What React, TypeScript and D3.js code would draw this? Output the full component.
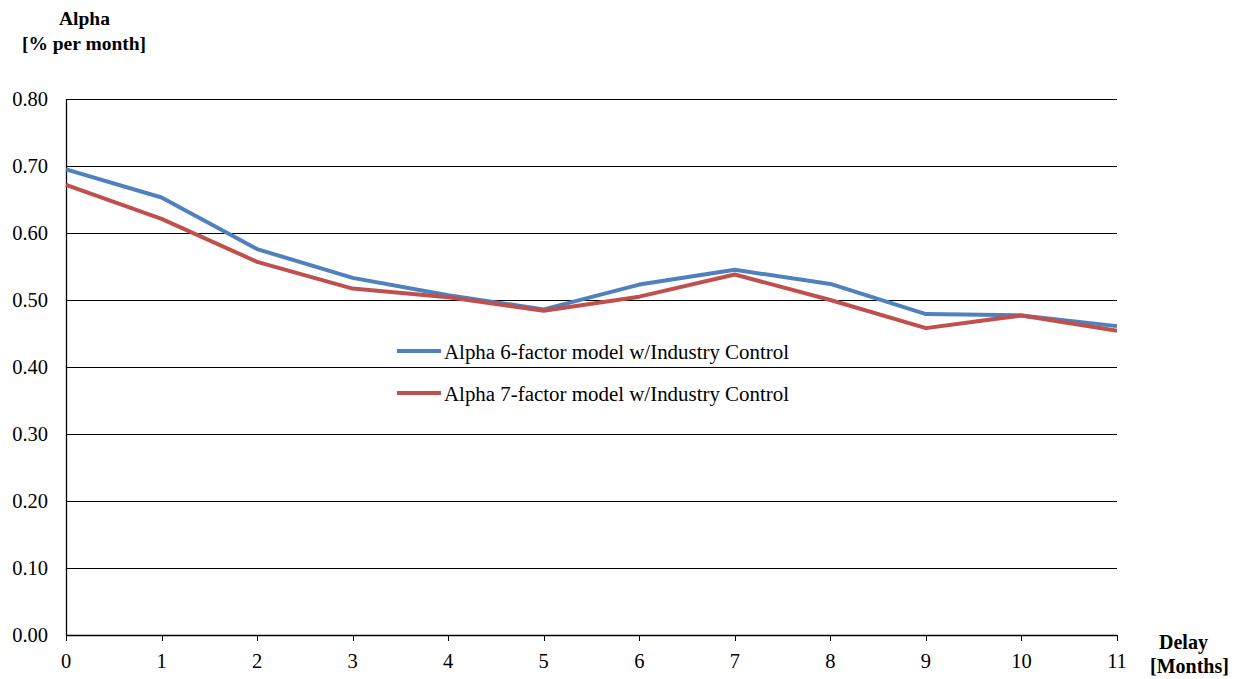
import React from "react";
import * as d3 from "d3";

const delays = [0, 1, 2, 3, 4, 5, 6, 7, 8, 9, 10, 11];
const alpha6 = [0.695, 0.653, 0.576, 0.533, 0.507, 0.486, 0.523, 0.545, 0.524, 0.479, 0.477, 0.461];
const alpha7 = [0.672, 0.621, 0.557, 0.517, 0.504, 0.484, 0.505, 0.538, 0.500, 0.458, 0.477, 0.454];
const yTicks = [0, 0.1, 0.2, 0.3, 0.4, 0.5, 0.6, 0.7, 0.8];
const seriesNames = ["Alpha 6-factor model w/Industry Control", "Alpha 7-factor model w/Industry Control"];
const colors = ["#4F81BD", "#C0504D"];

const W = 1236, H = 679;
const FONT = "'Liberation Serif', 'Times New Roman', serif";

export default function App() {
  const x = d3.scaleLinear().domain([0, 11]).range([66, 1117]);
  const y = d3.scaleLinear().domain([0, 0.8]).range([635, 99]);
  const line = d3.line<number>().x((_, i) => x(delays[i])).y((d) => y(d));
  const series = [alpha6, alpha7];
  return (
    <svg width={W} height={H} style={{ position: "absolute", left: 0, top: 0, background: "#fff" }} fontFamily={FONT}>
      {yTicks.map((t) => (
        <g key={t}>
          {t > 0 && <line x1={x(0)} x2={x(11)} y1={Math.round(y(t)) + 0.5} y2={Math.round(y(t)) + 0.5} stroke="#000" strokeWidth={1} />}
          <text x={48} y={y(t) + 7} textAnchor="end" fontSize={20.5}>{t.toFixed(2)}</text>
        </g>
      ))}
      <line x1={66.5} x2={66.5} y1={99} y2={636} stroke="#000" strokeWidth={1.3} />
      <line x1={66} x2={1117} y1={635.5} y2={635.5} stroke="#000" strokeWidth={1.3} />
      {delays.map((d) => (
        <g key={d}>
          <line x1={Math.round(x(d)) + 0.5} x2={Math.round(x(d)) + 0.5} y1={635} y2={641} stroke="#000" strokeWidth={1} />
          <text x={x(d)} y={668} textAnchor="middle" fontSize={20.5}>{d}</text>
        </g>
      ))}
      {series.map((s, i) => (
        <path key={i} d={line(s) || ""} fill="none" stroke={colors[i]} strokeWidth={4} strokeLinejoin="round" />
      ))}
      {seriesNames.map((n, i) => (
        <g key={n}>
          <line x1={397} x2={441} y1={351 + i * 42} y2={351 + i * 42} stroke={colors[i]} strokeWidth={4} />
          <text x={444} y={358.5 + i * 42} fontSize={20.8} textLength={345} lengthAdjust="spacingAndGlyphs">{n}</text>
        </g>
      ))}
      <text x={84.5} y={24.5} textAnchor="middle" fontSize={19.5} fontWeight="bold">Alpha</text>
      <text x={84} y={50} textAnchor="middle" fontSize={19.5} fontWeight="bold">[% per month]</text>
      <text x={1183.5} y={649} textAnchor="middle" fontSize={20} fontWeight="bold">Delay</text>
      <text x={1189.5} y={673} textAnchor="middle" fontSize={20} fontWeight="bold">[Months]</text>
    </svg>
  );
}
